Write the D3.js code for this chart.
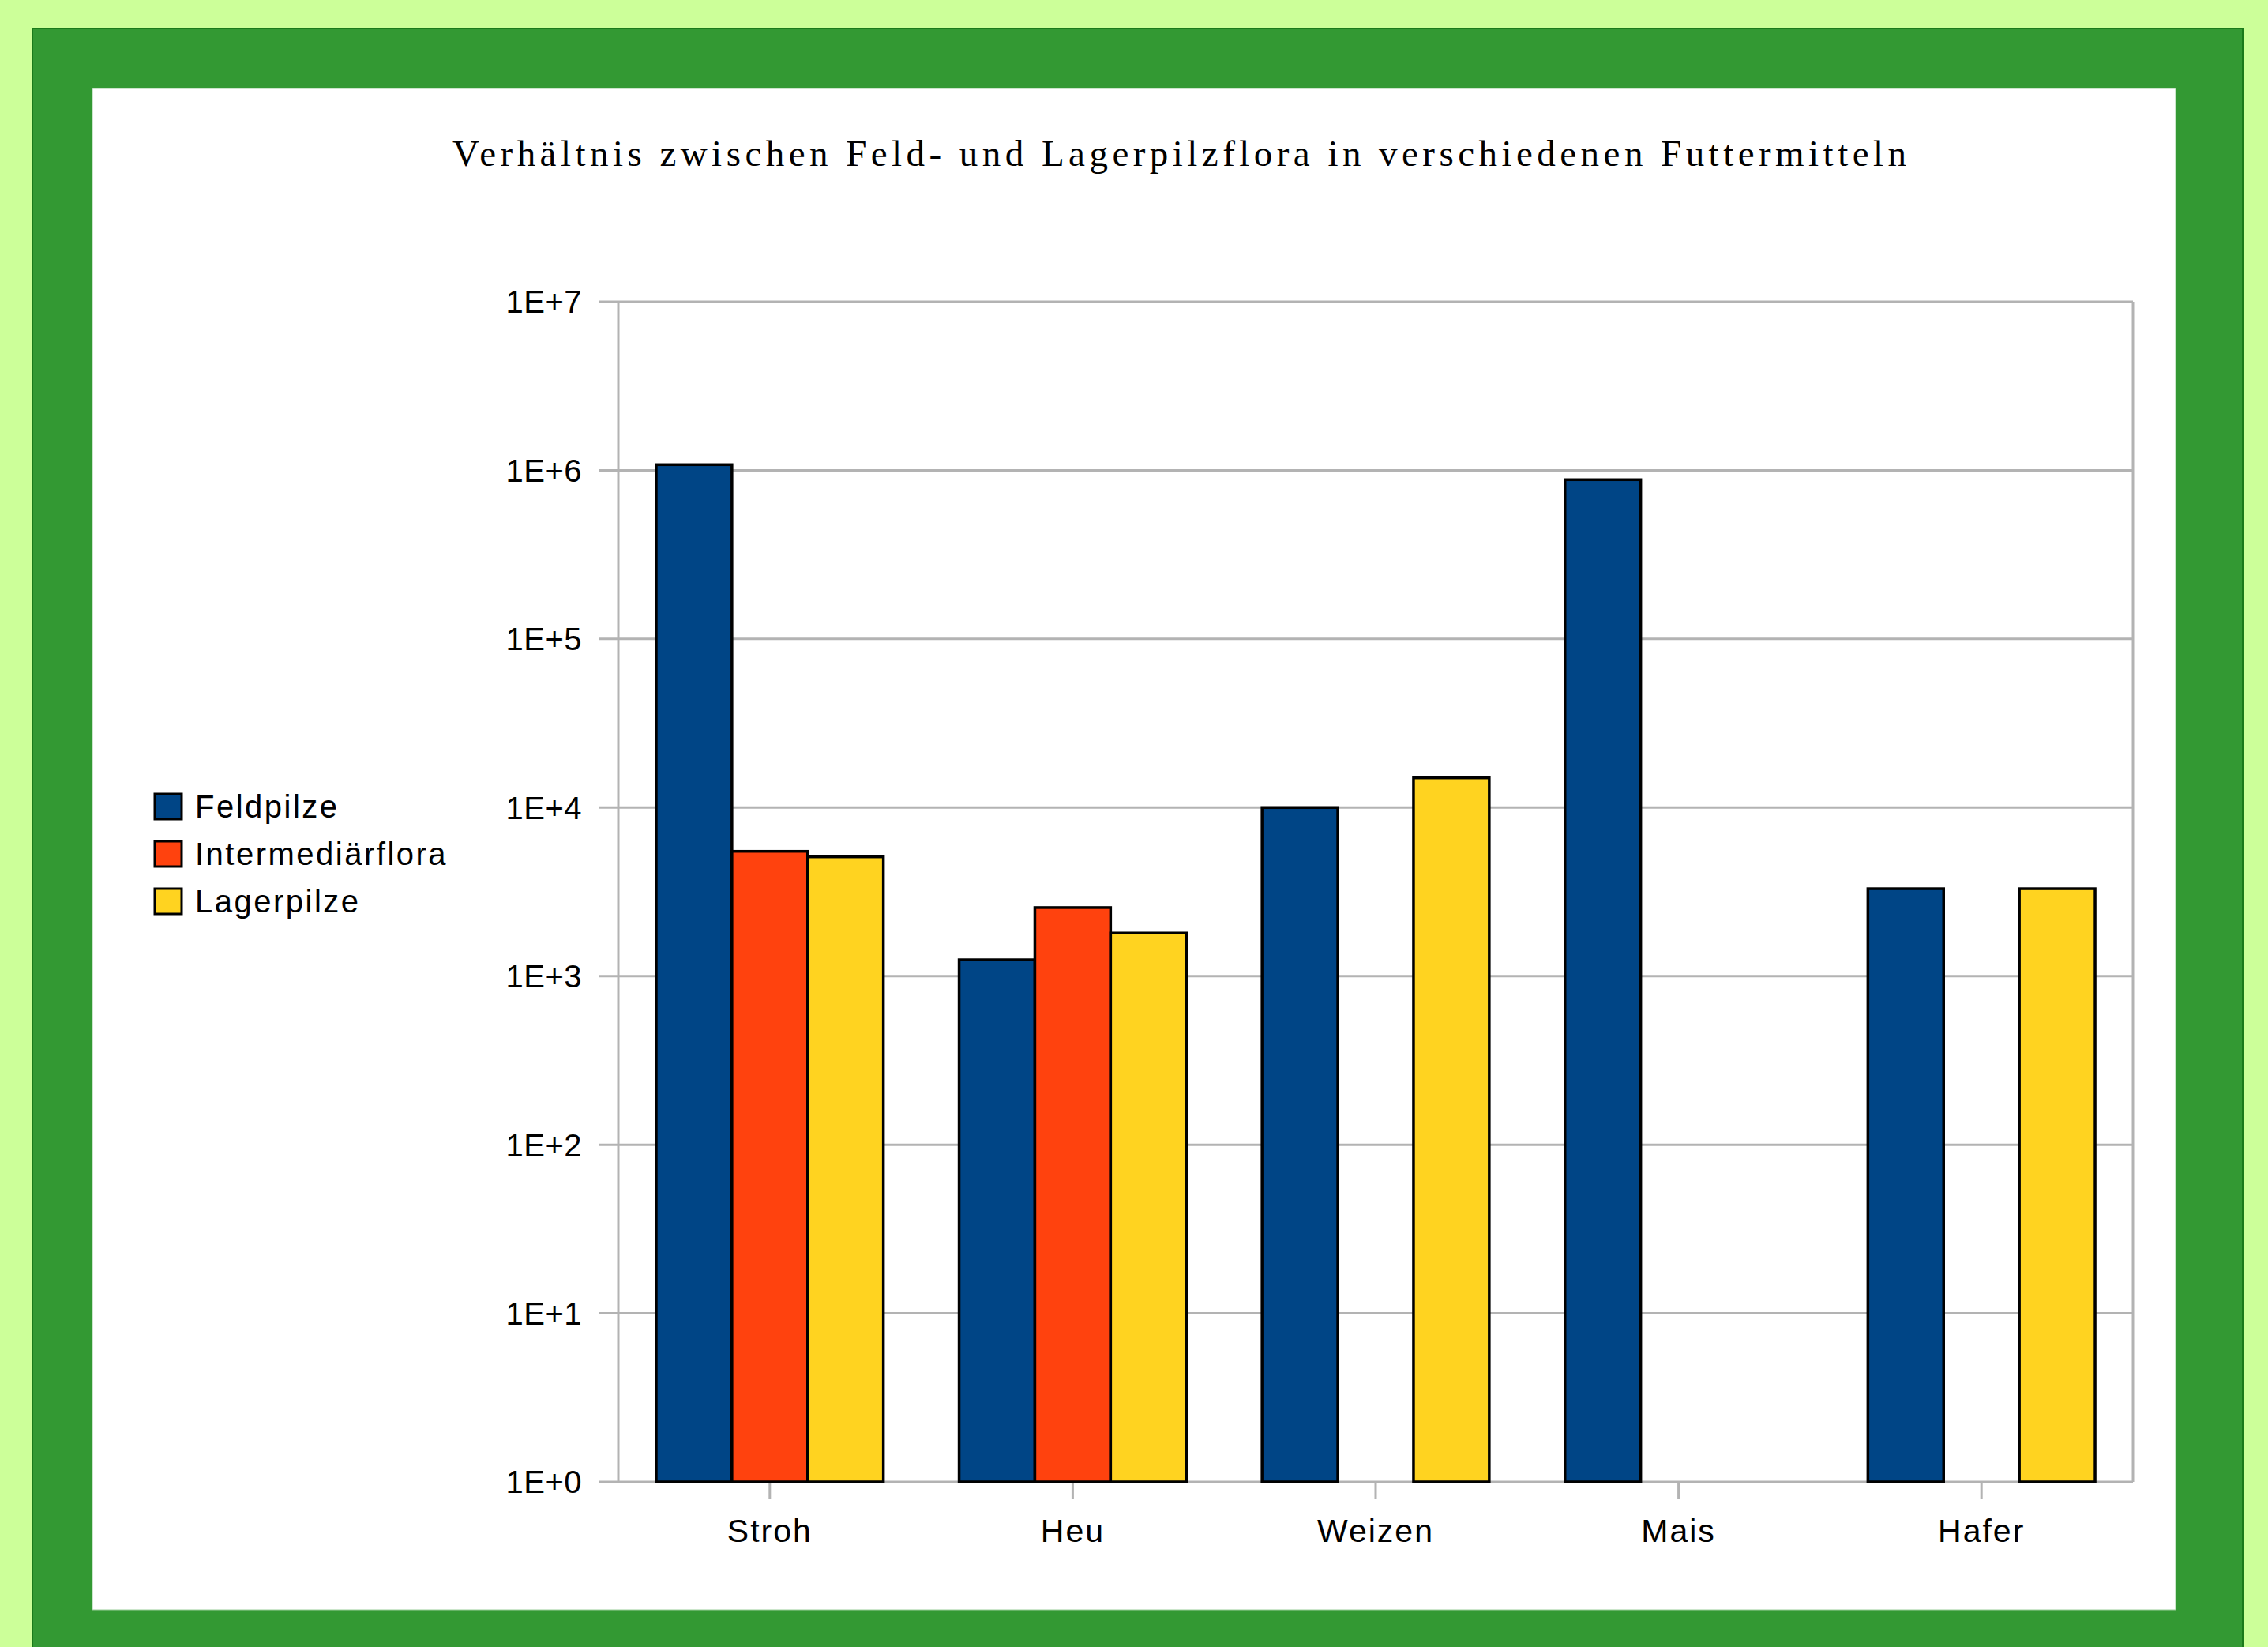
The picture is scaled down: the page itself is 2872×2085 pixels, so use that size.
<!DOCTYPE html>
<html>
<head>
<meta charset="utf-8">
<script src="https://cdn.jsdelivr.net/npm/d3@7"></script>
<style>
  html, body { margin: 0; padding: 0; background: #ccff99; }
  svg { display: block; }
</style>
</head>
<body>
<figure style="margin:0"></figure>
<script>
const width = 2872
const height = 2085

const title = 'Verhältnis zwischen Feld- und Lagerpilzflora in verschiedenen Futtermitteln'
const categories = ['Stroh', 'Heu', 'Weizen', 'Mais', 'Hafer']
const seriesNames = ['Feldpilze', 'Intermediärflora', 'Lagerpilze']
const seriesColors = ['#004586', '#ff420e', '#ffd320']
const feldpilze = [1080000, 1250, 10000, 880000, 3300]
const intermediaerflora = [5500, 2550, null, null, null]
const lagerpilze = [5100, 1800, 15000, null, 3300]
const yTicks = [1, 10, 100, 1000, 10000, 100000, 1000000, 10000000]
const yTickLabels = ['1E+0', '1E+1', '1E+2', '1E+3', '1E+4', '1E+5', '1E+6', '1E+7']

const seriesValues = [feldpilze, intermediaerflora, lagerpilze]

const svg = d3.select('figure').append('svg')
  .attr('width', width)
  .attr('height', height)

// frame
svg.append('rect')
  .attr('x', 0).attr('y', 0).attr('width', width).attr('height', height)
  .attr('fill', '#ccff99')
svg.append('rect')
  .attr('x', 41).attr('y', 36).attr('width', 2799).attr('height', 2100)
  .attr('fill', '#339933')
  .attr('stroke', '#1a7a1a')
  .attr('stroke-width', 2)
svg.append('rect')
  .attr('x', 117).attr('y', 112).attr('width', 2638).attr('height', 1926)
  .attr('fill', '#ffffff')
  .attr('stroke', '#99cc99')
  .attr('stroke-width', 1)

const plot = { left: 783, right: 2701, top: 382, bottom: 1876 }

const y = d3.scaleLog()
  .domain([1, 1e7])
  .range([plot.bottom, plot.top])

const x0 = d3.scaleBand()
  .domain(categories)
  .range([plot.left, plot.right])
  .padding(0)

const x1 = d3.scaleBand()
  .domain(seriesNames)
  .range([0, x0.bandwidth()])
  .paddingInner(0)
  .paddingOuter(0.5)

// gridlines
svg.append('g')
  .selectAll('line')
  .data(yTicks)
  .join('line')
  .attr('x1', plot.left - 25)
  .attr('x2', plot.right)
  .attr('y1', d => y(d))
  .attr('y2', d => y(d))
  .attr('stroke', '#b3b3b3')
  .attr('stroke-width', 3)

// axis frame lines
svg.append('line')
  .attr('x1', plot.left).attr('x2', plot.left)
  .attr('y1', plot.top).attr('y2', plot.bottom)
  .attr('stroke', '#b3b3b3').attr('stroke-width', 3)
svg.append('line')
  .attr('x1', plot.right).attr('x2', plot.right)
  .attr('y1', plot.top).attr('y2', plot.bottom)
  .attr('stroke', '#b3b3b3').attr('stroke-width', 3)

// category ticks
svg.append('g')
  .selectAll('line')
  .data(categories)
  .join('line')
  .attr('x1', d => x0(d) + x0.bandwidth() / 2)
  .attr('x2', d => x0(d) + x0.bandwidth() / 2)
  .attr('y1', plot.bottom)
  .attr('y2', plot.bottom + 22)
  .attr('stroke', '#b3b3b3')
  .attr('stroke-width', 3)

// y labels
svg.append('g')
  .selectAll('text')
  .data(yTicks)
  .join('text')
  .attr('x', 737)
  .attr('y', d => y(d))
  .attr('dy', '0.36em')
  .attr('text-anchor', 'end')
  .attr('font-family', 'Liberation Sans, Arial, sans-serif')
  .attr('font-size', 40)
  .attr('letter-spacing', 0.5)
  .attr('fill', '#000')
  .text((d, i) => yTickLabels[i])

// x labels
svg.append('g')
  .selectAll('text')
  .data(categories)
  .join('text')
  .attr('x', d => x0(d) + x0.bandwidth() / 2)
  .attr('y', 1952)
  .attr('text-anchor', 'middle')
  .attr('font-family', 'Liberation Sans, Arial, sans-serif')
  .attr('font-size', 41)
  .attr('letter-spacing', 2)
  .attr('fill', '#000')
  .text(d => d)

// bars
const barData = []
categories.forEach((c, ci) => {
  seriesNames.forEach((s, si) => {
    const v = seriesValues[si][ci]
    if (v !== null) barData.push({ category: c, series: s, value: v, color: seriesColors[si] })
  })
})

svg.append('g')
  .selectAll('rect')
  .data(barData)
  .join('rect')
  .attr('x', d => x0(d.category) + x1(d.series))
  .attr('y', d => y(d.value))
  .attr('width', x1.bandwidth())
  .attr('height', d => plot.bottom - y(d.value))
  .attr('fill', d => d.color)
  .attr('stroke', '#000')
  .attr('stroke-width', 3.5)

// title
svg.append('text')
  .attr('x', 573)
  .attr('y', 210)
  .attr('font-family', 'Liberation Serif, Times New Roman, serif')
  .attr('font-size', 47)
  .attr('textLength', 1841)
  .attr('lengthAdjust', 'spacing')
  .attr('fill', '#000')
  .text(title)

// legend
const legendY = [1021, 1081, 1141]
const legend = svg.append('g')
  .selectAll('g')
  .data(seriesNames)
  .join('g')
  .attr('transform', (d, i) => `translate(196, ${legendY[i]})`)

legend.append('rect')
  .attr('x', 0)
  .attr('y', -16)
  .attr('width', 34)
  .attr('height', 32)
  .attr('fill', (d, i) => seriesColors[i])
  .attr('stroke', '#000')
  .attr('stroke-width', 3)

legend.append('text')
  .attr('x', 51)
  .attr('y', 0)
  .attr('dy', '0.36em')
  .attr('font-family', 'Liberation Sans, Arial, sans-serif')
  .attr('font-size', 40)
  .attr('letter-spacing', 2.5)
  .attr('fill', '#000')
  .text(d => d)
</script>
</body>
</html>
